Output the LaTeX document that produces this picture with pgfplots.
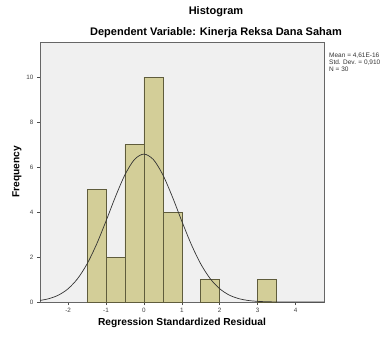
\documentclass[border=0pt]{standalone}
\usepackage{pgfplots}
\pgfplotsset{compat=1.18}
\usepackage{fontspec}
\setmainfont{Liberation Sans}
\definecolor{bgc}{RGB}{240,240,240}
\definecolor{barc}{RGB}{211,206,152}
\definecolor{bard}{RGB}{95,92,60}
\begin{document}
\begin{tikzpicture}
\begin{axis}[
  name=ax,
  scale only axis, width=284pt, height=260pt,
  xmin=-2.74, xmax=4.75, ymin=0, ymax=11.56,
  axis background/.style={fill=bgc},
  axis line style={draw=gray!80!black, line width=0.8pt},
  xtick={-2,-1,0,1,2,3,4}, ytick={0,2,4,6,8,10},
  tick align=outside, major tick length=3pt,
  xtick pos=bottom, ytick pos=left,
  tick style={gray!60!black, line width=0.5pt},
  ticklabel style={font=\fontsize{6.3}{7}\selectfont, text=black!75},
  /pgf/number format/assume math mode=true,
  xlabel={\bfseries Regression Standardized Residual},
  ylabel={\bfseries Frequency},
  label style={font=\fontsize{10.2}{12}\selectfont},
  xlabel style={yshift=2pt},
  ylabel style={yshift=-2pt},
  clip=false,
]
\addplot[ybar, bar width=0.5, bar shift=0pt, fill=barc, draw=bard, line width=0.6pt] coordinates {
 (-1.25,5) (-0.75,2) (-0.25,7) (0.25,10) (0.75,4) (1.75,1) (3.25,1)};
\addplot[smooth, black!80, line width=0.7pt] coordinates {
 (-2.74,0.070) (-2.5,0.151) (-2.25,0.309) (-2,0.588) (-1.75,1.035) (-1.5,1.690) (-1.25,2.560)
 (-1,3.595) (-0.75,4.682) (-0.5,5.655) (-0.25,6.333) (0,6.576) (0.25,6.333) (0.5,5.655)
 (0.75,4.682) (1,3.595) (1.25,2.560) (1.5,1.690) (1.75,1.035) (2,0.588) (2.25,0.309)
 (2.5,0.151) (2.75,0.068) (3,0.029) (3.25,0.011) (3.5,0.004) (3.75,0.001) (4,0.0004) (4.75,0)};
\end{axis}
\node[font=\fontsize{11}{13}\selectfont\bfseries] at ([xshift=34pt,yshift=30pt]ax.north) {Histogram};
\node[font=\fontsize{11}{13}\selectfont\bfseries] at ([xshift=34pt,yshift=9pt]ax.north) {Dependent Variable: Kinerja Reksa Dana Saham};
\node[anchor=north west, font=\fontsize{6.5}{7}\selectfont, align=left, inner sep=0pt, text=black!80] at ([xshift=5pt,yshift=-11pt]ax.north east) {Mean = 4,61E-16\\Std. Dev. = 0,910\\N = 30};
\path[use as bounding box] ([xshift=-40pt,yshift=-35pt]ax.south west) rectangle ([xshift=62pt,yshift=42pt]ax.north east);
\end{tikzpicture}
\end{document}
